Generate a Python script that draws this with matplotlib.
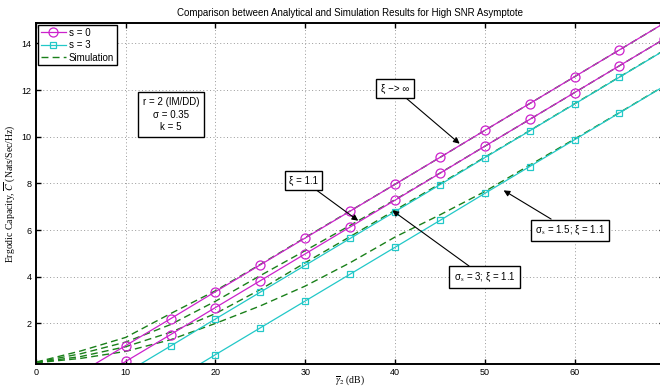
"""
Ergodic capacity vs average SNR: analytical high-SNR asymptotes
against simulation, for s = 0 and s = 3.
"""

import matplotlib
matplotlib.use('Agg')
import matplotlib.pyplot as plt

snr_db = [0, 5, 10, 15, 20, 25, 30, 35, 40, 45, 50, 55, 60, 65, 70]

# analytical curves, s = 0
s0_xi_inf = [-1.25, -0.10, 1.05, 2.20, 3.36, 4.51, 5.66, 6.81, 7.96,
             9.11, 10.27, 11.42, 12.57, 13.72, 14.87]
s0_xi_11 = [-1.93, -0.78, 0.37, 1.52, 2.68, 3.83, 4.98, 6.13, 7.28,
            8.43, 9.59, 10.74, 11.89, 13.04, 14.19]

# analytical curves, s = 3
s3_upper = [-2.42, -1.27, -0.12, 1.03, 2.19, 3.34, 4.49, 5.64, 6.79,
            7.94, 9.10, 10.25, 11.40, 12.55, 13.70]
s3_lower = [-3.95, -2.80, -1.65, -0.50, 0.66, 1.81, 2.96, 4.11, 5.26,
            6.41, 7.57, 8.72, 9.87, 11.02, 12.17]

# simulation curves
sim_1 = [0.34, 0.82, 1.40, 2.42, 3.40, 4.53, 5.68, 6.82, 7.96,
         9.11, 10.27, 11.42, 12.57, 13.72, 14.87]
sim_2 = [0.33, 0.70, 1.20, 1.95, 2.95, 4.05, 5.12, 6.20, 7.30,
         8.44, 9.59, 10.74, 11.89, 13.04, 14.19]
sim_3 = [0.32, 0.58, 1.00, 1.62, 2.42, 3.45, 4.60, 5.72, 6.85,
         7.98, 9.12, 10.26, 11.41, 12.56, 13.71]
sim_4 = [0.31, 0.50, 0.80, 1.30, 2.00, 2.75, 3.60, 4.60, 5.70,
         6.65, 7.65, 8.78, 9.90, 11.03, 12.18]

x_ticks = [0, 10, 20, 30, 40, 50, 60, 70]
x_tick_labels = ['0', '10', '20', '30', '40', '50', '60', '']
y_ticks = [2, 4, 6, 8, 10, 12, 14]

MAGENTA = '#cc22cc'
CYAN = '#22c8c8'
GREEN = '#1a801a'

plt.rcParams['font.family'] = ['Liberation Sans', 'DejaVu Sans']
plt.rcParams['mathtext.fontset'] = 'stix'

fig = plt.figure(figsize=(6.6, 3.89), dpi=100)
ax = fig.add_axes([0.0545, 0.0643, 0.952, 0.877])

# simulation first so the analytical lines sit on top
sim_style = dict(color=GREEN, linestyle=(0, (5, 3)), linewidth=1.0)
for sim in (sim_1, sim_2, sim_3, sim_4):
    ax.plot(snr_db, sim, **sim_style)

mk_c = dict(marker='o', markersize=6.5, markerfacecolor='none',
            markeredgewidth=0.9, linewidth=0.9, color=MAGENTA)
mk_s = dict(marker='s', markersize=5, markerfacecolor='none',
            markeredgewidth=0.9, linewidth=0.9, color=CYAN)
h0, = ax.plot(snr_db, s0_xi_inf, **mk_c)
ax.plot(snr_db, s0_xi_11, **mk_c)
h3, = ax.plot(snr_db, s3_upper, **mk_s)
ax.plot(snr_db, s3_lower, **mk_s)
hs, = ax.plot([], [], **sim_style)

ax.set_xlim(0, 70)
ax.set_ylim(0.26, 14.88)
ax.set_xticks(x_ticks)
ax.set_xticklabels(x_tick_labels)
ax.set_yticks(y_ticks)
ax.tick_params(direction='in', length=3.5, width=1, labelsize=6.5,
               top=True, right=True, pad=3)
for sp in ax.spines.values():
    sp.set_linewidth(1.4)
ax.grid(True, color='#999999', linestyle=(0, (1, 2.5)), linewidth=0.7)

ax.set_title('Comparison between Analytical and Simulation Results '
             'for High SNR Asymptote', fontsize=7, pad=5)
ax.set_xlabel(r'$\overline{\gamma}_2$ (dB)', fontsize=7,
              family='Liberation Serif')
ax.set_ylabel(r'Ergodic Capacity, $\overline{C}$ (Nats/Sec/Hz)',
              fontsize=7, family='Liberation Serif')
ax.xaxis.set_label_coords(0.5, -0.028)
ax.yaxis.set_label_coords(-0.03, 0.5)

leg = ax.legend([h0, h3, hs], ['s = 0', 's = 3', 'Simulation'],
                loc='upper left', fontsize=7, fancybox=False,
                edgecolor='black', framealpha=1, borderaxespad=0.2,
                handlelength=2.6, handletextpad=0.3, borderpad=0.3,
                labelspacing=0.25)
leg.get_frame().set_linewidth(1.0)

box = dict(boxstyle='square,pad=0.45', facecolor='white',
           edgecolor='black', linewidth=1.0)
ax.text(15.05, 10.95, 'r = 2 (IM/DD)\nσ = 0.35\nk = 5', fontsize=7,
        ha='center', va='center', linespacing=1.35, bbox=box)

arrow = dict(arrowstyle='-|>', color='black', linewidth=0.8,
             mutation_scale=9, shrinkA=0, shrinkB=0)
notes = [
    ('ξ −> ∞', (40.0, 12.06), (47.2, 9.70)),
    ('ξ = 1.1', (29.8, 8.12), (35.9, 6.40)),
    ('σ$_{\\mathrm{s}}$ = 1.5; ξ = 1.1', (59.5, 5.98), (52.1, 7.70)),
    ('σ$_{\\mathrm{s}}$ = 3; ξ = 1.1', (50.0, 3.97), (39.7, 6.84)),
]
for label, txt_xy, tip_xy in notes:
    ax.annotate(label, xy=tip_xy, xytext=txt_xy, fontsize=7,
                ha='center', va='center', bbox=box, arrowprops=arrow)

fig.savefig('out.png', dpi=100)
